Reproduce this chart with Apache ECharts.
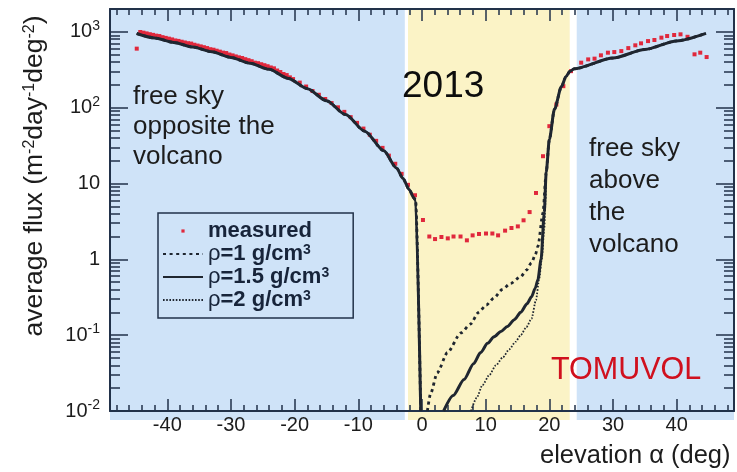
<!DOCTYPE html>
<html>
<head>
<meta charset="utf-8">
<script src="https://cdn.jsdelivr.net/npm/echarts@6/dist/echarts.min.js"></script>
<style>
  html, body { margin: 0; padding: 0; background: #ffffff; }
  #chart { width: 737px; height: 472px; }
</style>
</head>
<body>
<div id="chart"></div>
<script>
// ---- shaded elevation zones (deg) ----
const zoneRanges = [[-49, -2.7], [-2.2, 23.2], [24.3, 49]];
const zoneKinds = ['sky', 'volcano', 'sky'];

// ---- axis ticks ----
const angleTicks = [-40, -30, -20, -10, 0, 10, 20, 30, 40];
const fluxTicks = [0.01, 0.1, 1, 10, 100, 1000];
const fluxTickLabels = ['10{s|-2}', '10{s|-1}', '1', '10', '10{s|2}', '10{s|3}'];

// ---- simulated flux, free sky on the far side (shared by all densities) ----
const westSkyAngle = [-44.8, -42, -39, -36, -33, -30, -27, -24, -21, -18, -15, -12, -9, -6, -4, -3, -2, -1.3, -1.0, -0.2];
const westSkyFlux  = [950, 830, 725, 630, 545, 460, 385, 320, 243, 178, 123, 81, 49, 27, 16, 11.7, 8.3, 6.5, 6.0, 0.01];

// ---- simulated flux, free sky above the volcano (shared) ----
const eastSkyAngle = [19.5, 20.0, 20.8, 21.9, 22.6, 23.2, 23.9, 30, 35, 40, 44.6];
const eastSkyFlux  = [13.9, 38, 95, 190, 255, 300, 325, 451, 585, 759, 955];

// ---- simulated flux through the volcano for each rock density ----
const rho1Angle  = [0.85, 1.35, 2.4, 4.0, 6.1, 7.6, 8.9, 10.1, 11.3, 12.6, 13.9, 15.5, 16.4, 17.2, 17.8, 18.2, 19.0];
const rho1Flux   = [0.01, 0.017, 0.032, 0.059, 0.107, 0.14, 0.2, 0.25, 0.31, 0.4, 0.48, 0.59, 0.72, 0.9, 1.15, 1.48, 4.1];
const rho15Angle = [3.4, 4.9, 6.6, 8.1, 9.2, 10.3, 11.3, 12.4, 13.4, 14.5, 15.5, 16.5, 17.2, 17.8, 18.2, 18.7, 19.2];
const rho15Flux  = [0.01, 0.016, 0.026, 0.042, 0.059, 0.078, 0.095, 0.112, 0.13, 0.16, 0.2, 0.26, 0.32, 0.42, 0.54, 1.0, 4.1];
const rho2Angle  = [7.7, 8.6, 9.5, 10.6, 11.6, 12.7, 13.7, 14.7, 15.5, 16.4, 17.2, 17.9, 18.4, 18.8, 19.2, 19.4];
const rho2Flux   = [0.01, 0.015, 0.022, 0.03, 0.04, 0.051, 0.065, 0.082, 0.1, 0.128, 0.165, 0.29, 0.55, 1.0, 2.5, 6];

// ---- measured flux ----
const measuredAngle = [
  -44.8, -44.25, -43.75, -43.25, -42.75, -42.25, -41.75, -41.25, -40.75, -40.25,
  -39.75, -39.25, -38.75, -38.25, -37.75, -37.25, -36.75, -36.25, -35.75, -35.25,
  -34.75, -34.25, -33.75, -33.25, -32.75, -32.25, -31.75, -31.25, -30.75, -30.25,
  -29.75, -29.25, -28.75, -28.25, -27.75, -27.25, -26.75, -26.25, -25.75, -25.25,
  -24.75, -24.25, -23.75, -23.25, -22.75, -22.25, -21.75, -21.25, -20.75, -20.25,
  -19.2, -18.2, -17.2, -16.2, -15.2, -14.2, -13.2, -12.2, -11.2, -10.2,
  -9.2, -8.2, -7.2, -6.2, -5.2, -4.2, -3.2, -2.2, -1.1,
  0.15, 1.15, 2.05, 3.05, 4.05, 4.95, 6.05, 7.05, 7.95, 8.95,
  10.05, 11.05, 11.95, 13.05, 14.05, 15.05, 15.95, 16.9, 17.9, 19.0,
  20.0, 21.1, 22.2, 23.4,
  25.0, 26.1, 27.1, 28.1, 29.2, 30.2, 31.3, 32.4, 33.5, 34.4,
  35.5, 36.5, 37.6, 38.5, 39.6, 40.6, 41.7, 42.8, 43.7, 44.7
];
const measuredFlux = [
  600, 995, 975, 953, 931, 912, 891, 880, 851, 832,
  813, 794, 770, 759, 741, 724, 708, 700, 676, 659,
  643, 627, 611, 590, 581, 564, 548, 532, 525, 502,
  489, 474, 461, 452, 436, 423, 410, 392, 386, 374,
  363, 352, 339, 330, 309, 295, 278, 269, 251, 238,
  214, 190, 166, 148, 130, 115, 101, 88, 75, 63,
  53, 44, 36.5, 29.5, 23.3, 18.2, 13.4, 9.6, 7.0,
  3.3, 2.0, 1.85, 1.97, 1.89, 2.0, 2.0, 1.78, 2.07, 2.16,
  2.19, 2.19, 2.07, 2.39, 2.59, 2.72, 3.27, 4.2, 7.5, 22.9,
  57, 110, 192, 303,
  392, 433, 443, 490, 531, 541, 557, 610, 664, 705,
  755, 780, 838, 880, 908, 927, 860, 505, 531, 465
];

// ---- styling ----
const FONT = '"Liberation Sans", Arial, Helvetica, sans-serif';
const FRAME = '#22324a';
const INK = '#1c1c1c';
const CURVE = '#1f2630';
const MARKER = '#e0283c';
const LEGEND_INK = '#17243a';
const ZONE_FILL = { sky: '#cfe3f8', volcano: '#fbf3c6' };
const FLUX_MIN = 0.01, FLUX_MAX = 2000;

const pairs = (xs, ys) => xs.map((x, i) => [x, ys[i]]);
const BREAK = ['-', '-'];
const modelCurve = (ax, fl) => [
  ...pairs(westSkyAngle, westSkyFlux), BREAK,
  ...pairs(ax, fl), ...pairs(eastSkyAngle, eastSkyFlux)
];

// minor tick positions
const minorAngle = [];
for (let a = -48; a <= 48; a += 2) if (a % 10 !== 0) minorAngle.push(a);
const minorLogFlux = [];
for (let e = -2; e <= 3; e++) for (let k = 2; k <= 9; k++) minorLogFlux.push(Math.log10(k) + e);

const chart = echarts.init(document.getElementById('chart'), null, { renderer: 'canvas' });

const tickStyle = { color: FRAME, width: 1.5 };
const hidden = { show: false };
function xAxisDef(position, major, showLine, showLabel) {
  return {
    type: 'value', position, min: -49, max: 49,
    splitLine: hidden, axisPointer: hidden,
    axisLine: { show: showLine, onZero: false, lineStyle: { color: FRAME, width: 2 } },
    axisTick: { show: true, inside: true, length: major ? 12 : 6,
      customValues: major ? angleTicks : minorAngle, lineStyle: tickStyle },
    axisLabel: showLabel
      ? { show: true, customValues: angleTicks, margin: 4, fontSize: 20, fontFamily: FONT, color: INK }
      : { show: false }
  };
}
function yLogAxis(position, showLabel) {
  return {
    type: 'log', position, min: FLUX_MIN, max: FLUX_MAX, logBase: 10,
    splitLine: hidden, axisPointer: hidden,
    axisLine: { show: true, onZero: false, lineStyle: { color: FRAME, width: 2 } },
    axisTick: { show: true, inside: true, length: 18, lineStyle: tickStyle },
    axisLabel: showLabel ? {
      show: true, margin: 10, fontSize: 20, lineHeight: 26, fontFamily: FONT, color: INK,
      formatter: v => {
        const e = Math.log10(v);
        const i = fluxTicks.findIndex(t => Math.abs(Math.log10(t) - e) < 1e-6);
        return i >= 0 ? fluxTickLabels[i] : '';
      },
      rich: { s: { fontSize: 14, lineHeight: 14, verticalAlign: 'top', fontFamily: FONT, color: INK } }
    } : { show: false }
  };
}
function yMinorAxis(position) {
  return {
    type: 'value', position, min: Math.log10(FLUX_MIN), max: Math.log10(FLUX_MAX),
    splitLine: hidden, axisPointer: hidden,
    axisLine: { show: false, onZero: false },
    axisTick: { show: true, inside: true, length: 10, customValues: minorLogFlux, lineStyle: tickStyle },
    axisLabel: { show: false }
  };
}

const lineSeries = (name, data, style, z) => ({
  name, type: 'line', data, xAxisIndex: 0, yAxisIndex: 0,
  symbol: 'none', showSymbol: false, connectNulls: false,
  smooth: 0.25, smoothMonotone: 'x', clip: true, z,
  lineStyle: Object.assign({ color: CURVE, cap: 'butt' }, style),
  itemStyle: { color: CURVE },
  emphasis: { disabled: true }
});

const annotation = (x, y, text, style, extra) => Object.assign({
  type: 'text', x, y, z: 50, silent: true,
  style: Object.assign({ text, fontFamily: FONT, fill: INK }, style)
}, extra || {});

const option = {
  animation: false,
  backgroundColor: '#ffffff',
  grid: { left: 110, right: 3, top: 9, bottom: 61, containLabel: false },
  xAxis: [
    xAxisDef('bottom', true, true, true),
    xAxisDef('bottom', false, false, false),
    xAxisDef('top', true, true, false),
    xAxisDef('top', false, false, false)
  ],
  yAxis: [
    yLogAxis('left', true),
    yMinorAxis('left'),
    yLogAxis('right', false),
    yMinorAxis('right')
  ],
  legend: {
    left: 158, top: 213, orient: 'vertical', selectedMode: false, z: 20,
    itemWidth: 40, itemHeight: 4, itemGap: 1,
    padding: [7, 24, 7, 4],
    borderColor: FRAME, borderWidth: 1.5, backgroundColor: 'transparent',
    data: [
      { name: 'measured' },
      { name: 'ρ=1 g/cm3', itemStyle: { opacity: 0 } },
      { name: 'ρ=1.5 g/cm3', itemStyle: { opacity: 0 } },
      { name: 'ρ=2 g/cm3', itemStyle: { opacity: 0 } }
    ],
    formatter: name => name.replace(/^ρ/, '{r|ρ}').replace(/cm3$/, 'cm{s|3}'),
    textStyle: {
      fontFamily: FONT, fontSize: 22, fontWeight: 'bold', color: LEGEND_INK, lineHeight: 22,
      rich: {
        r: { fontFamily: FONT, fontSize: 22, fontWeight: 'normal', color: LEGEND_INK },
        s: { fontFamily: FONT, fontSize: 14, fontWeight: 'bold', color: LEGEND_INK, verticalAlign: 'top', lineHeight: 14 }
      }
    }
  },
  series: [
    {
      type: 'custom', name: 'zones', xAxisIndex: 0, yAxisIndex: 0,
      clip: false, silent: true, z: -1,
      data: zoneRanges.map((r, i) => [r[0], r[1], 1, i]),
      encode: { x: [0, 1], y: 2 },
      renderItem: (params, api) => {
        const cs = params.coordSys;
        const x0 = api.coord([api.value(0), 1])[0];
        const x1 = api.coord([api.value(1), 1])[0];
        return {
          type: 'rect',
          shape: { x: x0, y: cs.y, width: x1 - x0, height: cs.height + 9 },
          style: { fill: ZONE_FILL[zoneKinds[api.value(3)]] }
        };
      }
    },
    {
      name: 'measured', type: 'line', xAxisIndex: 0, yAxisIndex: 0,
      data: pairs(measuredAngle, measuredFlux),
      symbol: 'rect', symbolSize: 4, showSymbol: true, showAllSymbol: true, z: 3,
      lineStyle: { width: 0, opacity: 0 },
      itemStyle: { color: MARKER }, emphasis: { disabled: true }
    },
    lineSeries('ρ=2 g/cm3', modelCurve(rho2Angle, rho2Flux), { width: 1.8, type: [1.6, 1.6] }, 4),
    lineSeries('ρ=1 g/cm3', modelCurve(rho1Angle, rho1Flux), { width: 2.8, type: [3, 3.6] }, 4),
    lineSeries('ρ=1.5 g/cm3', modelCurve(rho15Angle, rho15Flux), { width: 3 }, 5)
  ],
  graphic: [
    annotation(0, 0, 'average flux (m{s|-2}day{s|-1}deg{s|-2})', {
      fontSize: 26.5, align: 'center', verticalAlign: 'middle', textAlign: 'center', textVerticalAlign: 'middle',
      rich: { s: { fontFamily: FONT, fontSize: 16, fill: INK, verticalAlign: 'top', lineHeight: 16 } }
    }, { x: 35, y: 176, rotation: Math.PI / 2 }),
    annotation(540, 456, 'elevation α (deg)', {
      fontSize: 25.5, align: 'left', verticalAlign: 'middle', textAlign: 'left', textVerticalAlign: 'middle'
    }),
    annotation(402, 87, '2013', {
      fontSize: 37, fill: '#0d0d0d', align: 'left', verticalAlign: 'middle', textAlign: 'left', textVerticalAlign: 'middle'
    }),
    annotation(133, 82, 'free sky\nopposite the\nvolcano', {
      fontSize: 26, lineHeight: 30, align: 'left', verticalAlign: 'top', textAlign: 'left', textVerticalAlign: 'top'
    }),
    annotation(589, 133, 'free sky\nabove\nthe\nvolcano', {
      fontSize: 26, lineHeight: 32, align: 'left', verticalAlign: 'top', textAlign: 'left', textVerticalAlign: 'top'
    }),
    annotation(551, 371, 'TOMUVOL', {
      fontSize: 30.5, fill: '#d0101e', align: 'left', verticalAlign: 'middle', textAlign: 'left', textVerticalAlign: 'middle'
    })
  ]
};

chart.setOption(option);
</script>
</body>
</html>
